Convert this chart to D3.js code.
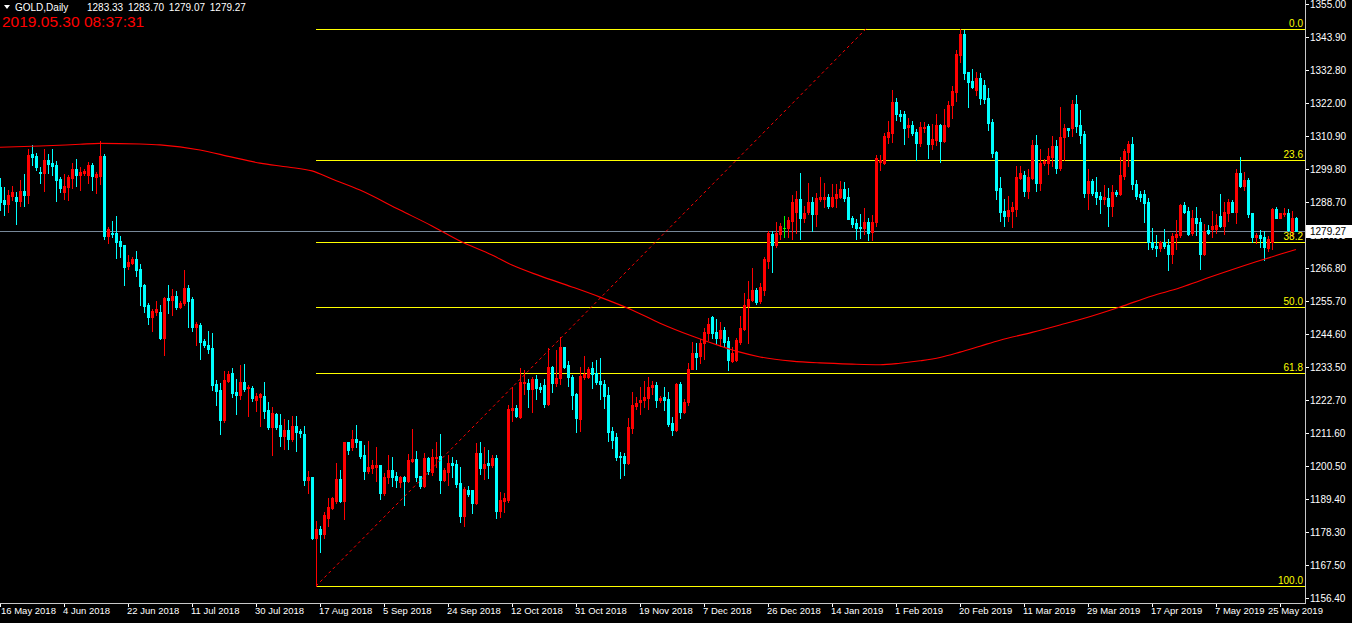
<!DOCTYPE html>
<html><head><meta charset="utf-8">
<script src="https://cdn.jsdelivr.net/npm/d3@7"></script>
<style>html,body{margin:0;padding:0;background:#000;overflow:hidden}</style>
</head><body>
<svg id="chart" width="1352" height="623"></svg>
<script>
const open = [1293.9,1289.5,1288.1,1290.9,1290.6,1289.2,1292.5,1291.1,1304.8,1304.2,1298.9,1298.6,1302.8,1301.9,1301.2,1296.5,1292.2,1293.9,1296.7,1299.7,1297.8,1298.4,1297.8,1301.2,1297.3,1297.5,1304.2,1277.4,1278.5,1278.5,1275.8,1274.4,1267.5,1268.3,1269.7,1266.4,1261.1,1254.4,1250.5,1251.9,1252.1,1243.4,1256.8,1256.0,1257.4,1253.8,1255.1,1260.1,1256.3,1246.9,1247.7,1242.4,1241.0,1240.1,1228.0,1226.0,1215.9,1229.1,1231.5,1225.4,1224.3,1228.7,1226.5,1226.5,1222.6,1223.7,1223.9,1219.3,1213.5,1217.8,1214.2,1210.6,1212.6,1209.5,1213.9,1212.3,1211.2,1195.9,1196.9,1176.4,1179.5,1177.8,1183.3,1186.6,1188.9,1196.2,1188.9,1208.5,1207.0,1209.6,1208.9,1204.2,1198.9,1200.0,1200.1,1200.9,1191.6,1196.8,1199.2,1197.2,1195.3,1196.8,1195.6,1202.2,1202.9,1197.2,1193.9,1203.3,1198.6,1203.1,1203.9,1195.9,1198.6,1201.6,1201.1,1194.8,1183.9,1192.5,1192.5,1188.1,1205.0,1200.0,1201.4,1200.9,1203.3,1185.5,1188.9,1189.2,1219.3,1219.8,1216.8,1228.2,1228.4,1226.3,1229.6,1227.0,1227.6,1221.3,1233.7,1228.4,1229.9,1240.2,1234.3,1230.4,1224.6,1216.2,1230.4,1230.4,1233.4,1231.5,1229.0,1227.9,1224.3,1212.2,1210.1,1204.0,1203.9,1201.4,1213.3,1220.7,1221.8,1222.6,1223.2,1226.8,1227.6,1222.6,1223.7,1222.9,1215.0,1212.6,1228.0,1218.5,1222.0,1233.0,1238.2,1237.3,1241.6,1244.9,1250.3,1245.4,1243.4,1246.0,1242.4,1235.7,1236.0,1242.1,1246.3,1254.1,1256.0,1259.4,1255.7,1259.4,1269.1,1278.1,1274.4,1278.1,1280.2,1280.0,1282.5,1285.6,1289.8,1283.6,1285.6,1288.9,1284.7,1289.7,1289.8,1290.6,1287.6,1290.2,1290.6,1293.1,1290.6,1283.3,1281.9,1280.3,1280.0,1282.1,1278.8,1282.1,1302.2,1301.9,1310.6,1312.0,1322.3,1318.2,1318.2,1313.8,1314.5,1312.1,1308.6,1313.6,1314.2,1308.2,1309.5,1314.5,1309.3,1314.2,1321.2,1325.7,1337.9,1345.0,1332.2,1329.3,1326.2,1330.3,1327.9,1323.5,1315.6,1305.6,1293.4,1285.8,1284.1,1285.9,1286.5,1296.7,1297.8,1292.6,1296.7,1307.9,1295.3,1301.7,1301.9,1303.9,1307.5,1300.1,1310.4,1313.6,1313.6,1321.6,1314.5,1311.5,1291.9,1295.8,1292.0,1290.8,1289.8,1290.2,1287.6,1292.2,1291.5,1297.6,1305.6,1308.2,1294.8,1291.5,1291.4,1288.9,1275.5,1274.2,1273.5,1275.5,1274.4,1271.4,1277.2,1277.8,1287.8,1285.8,1278.3,1283.3,1282.2,1271.3,1279.4,1279.7,1279.7,1284.1,1280.8,1285.2,1288.9,1285.6,1298.4,1294.1,1296.2,1285.0,1277.0,1277.8,1277.2,1273.3,1275.5,1286.4,1283.6,1284.8,1285.2,1279.1,1283.33];
const high = [1296.7,1293.9,1292.8,1294.2,1292.2,1296.2,1298.2,1306.4,1307.9,1305.1,1300.6,1306.5,1304.8,1306.5,1302.5,1297.3,1298.1,1297.8,1301.9,1303.1,1300.4,1299.7,1302.3,1301.7,1298.9,1309.2,1304.8,1280.3,1282.4,1284.1,1277.4,1274.4,1271.1,1270.5,1272.4,1268.0,1261.4,1254.9,1252.9,1255.7,1254.4,1257.1,1261.1,1259.7,1259.0,1255.7,1266.1,1261.1,1257.1,1248.8,1248.4,1243.0,1245.7,1244.9,1229.3,1228.4,1232.3,1232.3,1233.3,1229.5,1234.3,1234.6,1227.6,1227.3,1225.0,1224.8,1228.5,1222.0,1220.2,1218.2,1217.8,1216.2,1215.9,1217.3,1217.3,1212.9,1213.9,1198.9,1196.9,1182.2,1180.5,1185.2,1189.7,1190.1,1201.6,1199.2,1208.5,1208.5,1212.6,1214.2,1208.9,1207.6,1208.9,1202.5,1207.0,1200.9,1198.3,1204.2,1203.4,1198.6,1197.2,1197.2,1204.5,1212.9,1205.6,1197.2,1205.0,1203.7,1206.2,1208.5,1211.2,1199.8,1204.2,1203.6,1202.5,1200.3,1193.6,1193.8,1192.5,1208.1,1208.5,1207.0,1205.9,1204.2,1204.2,1191.9,1191.4,1220.9,1226.8,1220.9,1233.4,1232.6,1229.5,1230.4,1231.0,1228.2,1229.5,1239.9,1234.0,1239.3,1243.6,1240.4,1235.6,1231.0,1224.8,1233.7,1237.3,1233.7,1235.4,1236.0,1236.5,1229.3,1226.8,1213.7,1211.5,1205.1,1205.0,1216.7,1225.4,1223.7,1227.0,1229.1,1230.4,1229.0,1228.7,1224.0,1227.0,1225.2,1217.0,1228.2,1228.7,1222.8,1234.9,1242.1,1241.6,1243.0,1246.8,1249.9,1250.7,1249.7,1248.8,1247.1,1243.6,1240.4,1243.2,1250.7,1258.3,1262.4,1266.6,1260.1,1261.7,1270.5,1279.1,1279.1,1282.2,1281.7,1284.1,1283.9,1291.1,1292.5,1298.4,1287.6,1295.1,1290.4,1291.7,1297.3,1295.1,1291.4,1294.7,1294.7,1295.8,1295.4,1293.4,1284.1,1283.0,1284.8,1286.7,1283.4,1284.4,1304.5,1304.5,1312.0,1316.0,1326.2,1323.7,1319.6,1319.2,1317.0,1315.9,1313.2,1315.4,1315.4,1314.9,1314.8,1318.1,1314.8,1319.9,1322.6,1327.6,1339.6,1346.7,1346.3,1332.4,1333.2,1332.3,1331.9,1329.6,1326.9,1316.5,1306.0,1297.1,1289.7,1290.9,1288.9,1300.8,1300.8,1299.2,1299.8,1309.5,1311.2,1306.4,1303.2,1306.8,1310.9,1309.5,1320.5,1314.9,1313.6,1322.9,1324.6,1319.6,1312.5,1299.7,1296.4,1297.1,1292.0,1294.5,1293.6,1294.5,1292.8,1303.9,1306.4,1309.2,1310.6,1296.2,1292.6,1292.8,1290.0,1280.0,1277.8,1275.8,1279.8,1276.3,1278.5,1282.8,1288.1,1288.9,1287.0,1286.1,1287.2,1283.3,1281.3,1281.1,1285.8,1284.7,1291.5,1288.9,1289.7,1289.5,1299.8,1303.7,1298.9,1296.7,1285.0,1278.5,1279.4,1279.2,1277.4,1286.7,1287.0,1285.2,1286.7,1286.4,1285.8,1283.70];
const low = [1286.1,1284.5,1285.6,1289.5,1281.4,1287.5,1287.5,1288.6,1301.2,1299.5,1295.3,1292.5,1298.4,1297.8,1289.1,1292.2,1289.8,1289.5,1293.6,1294.2,1292.8,1297.8,1295.1,1292.8,1291.7,1294.8,1276.5,1275.2,1277.2,1270.2,1270.5,1261.1,1266.4,1268.1,1264.2,1254.4,1252.1,1248.0,1245.8,1251.0,1243.0,1237.6,1251.8,1251.0,1252.9,1253.4,1254.4,1247.1,1245.8,1241.0,1236.3,1240.4,1238.4,1226.0,1220.9,1211.2,1215.4,1228.5,1223.7,1217.9,1222.9,1225.6,1217.3,1222.4,1218.9,1213.9,1216.5,1212.9,1204.2,1212.8,1207.2,1206.1,1206.2,1208.9,1205.6,1210.3,1194.2,1191.4,1176.0,1160.4,1171.9,1176.4,1180.5,1186.1,1188.1,1188.6,1182.8,1204.4,1205.9,1207.0,1203.1,1196.2,1198.1,1198.3,1195.6,1189.5,1190.8,1194.8,1193.9,1193.6,1193.6,1187.5,1195.3,1201.9,1195.6,1193.1,1193.6,1197.9,1197.5,1200.3,1191.6,1195.5,1194.2,1197.0,1193.6,1181.9,1180.6,1190.6,1184.7,1187.8,1197.9,1196.1,1196.6,1200.1,1183.0,1183.4,1185.3,1188.6,1215.7,1216.8,1216.5,1224.6,1220.4,1218.7,1222.9,1225.4,1220.2,1220.9,1225.4,1227.3,1227.9,1233.2,1227.3,1219.6,1212.0,1212.2,1229.5,1229.8,1226.7,1227.8,1222.9,1220.0,1209.0,1206.6,1202.5,1196.4,1197.5,1201.1,1211.5,1219.6,1217.9,1220.2,1219.6,1224.6,1220.4,1222.0,1219.3,1214.0,1210.9,1212.3,1216.7,1218.2,1221.0,1232.9,1233.0,1234.9,1236.3,1242.7,1243.2,1241.3,1240.8,1240.2,1232.6,1235.4,1235.6,1241.3,1246.0,1241.6,1255.7,1254.8,1255.0,1257.7,1266.7,1265.4,1273.6,1276.4,1277.2,1277.0,1276.4,1278.5,1276.4,1282.2,1284.8,1279.2,1280.8,1289.2,1287.0,1286.9,1287.2,1287.2,1290.2,1289.2,1283.0,1280.5,1276.4,1276.9,1278.1,1276.1,1276.1,1280.8,1299.5,1301.5,1308.6,1309.0,1316.2,1316.0,1308.2,1310.6,1311.2,1302.8,1307.6,1312.3,1303.6,1306.4,1307.9,1302.3,1309.0,1314.0,1317.0,1322.7,1335.7,1329.9,1320.7,1326.8,1324.6,1321.6,1321.8,1312.9,1303.9,1289.8,1282.4,1280.8,1282.5,1280.5,1284.1,1296.4,1290.8,1290.2,1296.4,1292.6,1292.8,1301.2,1298.1,1300.8,1298.6,1299.5,1302.8,1310.9,1311.0,1312.3,1308.6,1290.6,1286.5,1291.1,1288.1,1285.2,1288.1,1280.8,1284.2,1290.9,1291.1,1296.5,1300.9,1293.1,1289.7,1289.2,1282.2,1273.1,1273.0,1270.8,1272.5,1273.5,1266.1,1268.3,1273.1,1277.2,1285.0,1277.7,1277.8,1277.8,1266.3,1271.1,1278.1,1277.0,1278.3,1280.5,1278.1,1282.5,1285.6,1281.9,1293.7,1292.8,1283.9,1275.5,1275.2,1273.7,1269.4,1272.5,1273.0,1283.6,1283.3,1284.1,1279.1,1277.4,1279.07];
const close = [1288.9,1288.1,1291.1,1292.2,1289.2,1292.5,1291.1,1304.5,1304.0,1300.6,1298.6,1302.8,1301.5,1300.8,1296.2,1293.6,1294.2,1297.3,1299.7,1297.8,1298.9,1299.3,1301.2,1297.5,1298.2,1304.2,1277.5,1279.8,1278.0,1275.4,1274.2,1267.2,1268.8,1269.7,1266.1,1260.8,1254.0,1250.5,1252.4,1253.0,1243.4,1256.8,1256.0,1257.4,1253.8,1255.1,1260.1,1255.7,1247.1,1247.9,1242.1,1241.0,1239.7,1227.6,1225.6,1215.9,1229.3,1231.3,1225.0,1224.3,1228.7,1226.3,1227.0,1223.4,1223.9,1224.5,1218.9,1213.5,1218.2,1213.5,1210.6,1212.6,1209.5,1213.9,1211.8,1211.5,1195.9,1197.0,1176.4,1179.4,1177.8,1184.2,1186.7,1189.7,1196.1,1188.9,1208.5,1205.9,1209.6,1208.7,1203.9,1198.9,1200.1,1200.9,1200.9,1191.6,1197.0,1199.2,1197.0,1195.9,1196.8,1195.6,1202.5,1202.9,1197.0,1193.9,1203.3,1198.9,1203.4,1203.6,1195.9,1199.2,1201.4,1200.9,1194.5,1183.9,1192.8,1191.2,1188.3,1204.8,1200.0,1201.2,1200.9,1203.3,1185.5,1189.2,1189.7,1219.6,1219.8,1217.3,1228.5,1228.5,1226.3,1229.6,1226.7,1226.3,1221.3,1233.7,1228.4,1229.9,1240.2,1233.7,1230.2,1224.3,1216.5,1230.6,1231.3,1233.0,1231.2,1228.7,1227.8,1224.0,1212.0,1209.2,1203.6,1203.5,1201.6,1213.7,1220.9,1221.7,1222.6,1223.7,1227.0,1227.6,1222.6,1223.2,1222.6,1214.5,1212.6,1228.0,1218.5,1222.0,1233.0,1238.4,1237.1,1241.6,1245.4,1248.0,1245.1,1243.4,1246.0,1242.1,1236.0,1238.4,1242.7,1246.6,1254.4,1256.3,1259.4,1255.5,1260.4,1269.7,1278.5,1274.4,1278.5,1280.8,1280.2,1282.8,1288.9,1289.8,1283.6,1285.2,1288.9,1284.8,1290.2,1290.6,1290.6,1287.5,1290.6,1291.4,1293.0,1290.2,1283.1,1281.3,1280.0,1280.0,1282.2,1278.4,1282.1,1303.4,1302.8,1310.9,1312.3,1322.3,1318.1,1317.6,1313.6,1314.5,1311.8,1308.6,1313.8,1314.0,1308.2,1309.8,1314.5,1309.3,1314.5,1321.2,1325.9,1338.3,1345.0,1332.0,1329.0,1327.2,1330.3,1323.5,1323.1,1315.3,1305.3,1292.8,1285.6,1284.1,1286.1,1287.0,1297.1,1298.4,1292.6,1297.1,1307.9,1295.3,1301.9,1302.5,1304.2,1307.5,1300.3,1310.4,1313.6,1312.9,1321.6,1314.2,1311.2,1291.9,1295.8,1291.9,1290.6,1289.8,1290.6,1287.6,1292.2,1291.4,1297.8,1305.9,1308.2,1294.7,1290.9,1290.6,1288.6,1275.3,1273.9,1273.5,1275.5,1274.1,1271.4,1277.4,1278.1,1287.8,1285.6,1278.1,1283.3,1281.9,1271.3,1279.1,1278.5,1280.8,1281.1,1280.8,1285.6,1288.9,1285.6,1298.4,1294.1,1296.2,1284.7,1277.0,1277.8,1276.7,1273.7,1276.3,1286.4,1283.6,1285.0,1285.2,1279.4,1283.6,1279.27];

const maBars = [0,10,20,25,35,40,50,58,65,72,78,83,90,100,108,115,123,128,135,143,150,158,165,173,180,185,190,198,205,213,220,225,230,235,240,245,250,258,265,273,280,288,295,300,307,314,320,324];
const maValues = [1307.1,1307.5,1308.1,1308.4,1308.2,1307.9,1306.2,1303.8,1301.8,1300.5,1299.2,1296.5,1292.8,1286.1,1280.8,1275.8,1271.1,1267.7,1264.1,1260.4,1257.0,1252.7,1248.3,1244.0,1240.7,1238.6,1237.0,1235.6,1235.0,1234.6,1234.4,1234.9,1235.7,1236.8,1238.6,1240.6,1242.6,1245.2,1247.7,1250.7,1253.7,1257.4,1260.1,1262.5,1265.7,1268.8,1271.3,1272.9];

const dateTickBars = [0,16,32,48,64,80,96,112,128,144,160,176,192,208,224,240,256,272,288,304,320];
const dateTickLabels = ["16 May 2018","4 Jun 2018","22 Jun 2018","11 Jul 2018","30 Jul 2018","17 Aug 2018","5 Sep 2018","24 Sep 2018","12 Oct 2018","31 Oct 2018","19 Nov 2018","7 Dec 2018","26 Dec 2018","14 Jan 2019","1 Feb 2019","20 Feb 2019","11 Mar 2019","29 Mar 2019","17 Apr 2019","7 May 2019","25 May 2019"];
const priceTicks = [1355.00,1343.90,1332.80,1322.00,1310.90,1299.80,1288.70,1277.60,1266.80,1255.70,1244.60,1233.50,1222.70,1211.60,1200.50,1189.40,1178.30,1167.50,1156.40];

const fibLevels = [0, 23.6, 38.2, 50.0, 61.8, 100.0];
const fibLevelLabels = ["0.0","23.6","38.2","50.0","61.8","100.0"];
const fibStartBar = 79, fibEndBar = 216.5;
const fibLowPrice = 1160.4, fibHighPrice = 1346.7;

const symbolTitle = "GOLD,Daily";
const headerOHLC = [1283.33, 1283.70, 1279.07, 1279.27];
const timestamp = "2019.05.30 08:37:31";
const lastPrice = 1279.27;

const W = 1352, H = 623;
const plotRight = 1305, plotBottom = 603;
const FONT = "'Liberation Sans', Arial, sans-serif";
const UP = "#ff0000", DOWN = "#00ffff", DOJI = "#00ff00";

const svg = d3.select("#chart");
svg.append("rect").attr("width", W).attr("height", H).attr("fill", "#000");

const x = d3.scaleLinear().domain([0, 324]).range([0, 1296]);
const y = d3.scaleLinear().domain([1156.4, 1355]).range([598, 4]);

const plot = svg.append("g").attr("shape-rendering", "crispEdges");

// moving average
const maData = maBars.map((b, i) => ({b, v: maValues[i]}));
svg.append("path")
  .datum(maData)
  .attr("fill", "none")
  .attr("stroke", "#ff0000")
  .attr("stroke-width", 1.1)
  .attr("d", d3.line().x(d => x(d.b)).y(d => y(d.v)).curve(d3.curveMonotoneX));

// fibonacci levels
const fibPrice = l => fibHighPrice - (fibHighPrice - fibLowPrice) * l / 100;
plot.selectAll(".fib").data(fibLevels).join("line")
  .attr("x1", x(fibStartBar)).attr("x2", plotRight)
  .attr("y1", d => Math.round(y(fibPrice(d))) + 0.5)
  .attr("y2", d => Math.round(y(fibPrice(d))) + 0.5)
  .attr("stroke", "#ffff00").attr("stroke-width", 1);

// diagonal trend line of fib
svg.append("line")
  .attr("x1", x(fibStartBar)).attr("y1", y(fibLowPrice))
  .attr("x2", x(fibEndBar)).attr("y2", y(fibHighPrice))
  .attr("stroke", "#ff0000").attr("stroke-width", 1)
  .attr("stroke-dasharray", "3,3");

// bid line
plot.append("line")
  .attr("x1", 0).attr("x2", plotRight)
  .attr("y1", Math.round(y(lastPrice)) + 0.5).attr("y2", Math.round(y(lastPrice)) + 0.5)
  .attr("stroke", "#778899").attr("stroke-width", 1);

// candles
const bars = open.map((o, i) => ({i, o, h: high[i], l: low[i], c: close[i]}));
const col = d => d.c > d.o ? UP : (d.c < d.o ? DOWN : DOJI);
const cg = plot.append("g");
cg.selectAll(".wick").data(bars).join("rect")
  .attr("x", d => Math.round(x(d.i)))
  .attr("y", d => Math.round(y(d.h)))
  .attr("width", 1)
  .attr("height", d => Math.max(1, Math.round(y(d.l)) - Math.round(y(d.h)) + 1))
  .attr("fill", col);
cg.selectAll(".body").data(bars).join("rect")
  .attr("x", d => Math.round(x(d.i)) - 1)
  .attr("y", d => Math.round(y(Math.max(d.o, d.c))))
  .attr("width", 3)
  .attr("height", d => Math.max(1, Math.round(y(Math.min(d.o, d.c))) - Math.round(y(Math.max(d.o, d.c))) + 1))
  .attr("fill", col);

// fib labels
svg.selectAll(".fibl").data(fibLevels).join("text")
  .attr("x", plotRight - 2)
  .attr("y", d => Math.round(y(fibPrice(d))) - 2)
  .attr("text-anchor", "end")
  .attr("fill", "#ffff00")
  .attr("font-family", FONT).attr("font-size", 10)
  .text((d, i) => fibLevelLabels[i]);

// axes frame
plot.append("line").attr("x1", plotRight + 0.5).attr("x2", plotRight + 0.5).attr("y1", 0).attr("y2", plotBottom + 1).attr("stroke", "#c8c8c8");
plot.append("line").attr("x1", 0).attr("x2", plotRight + 1).attr("y1", plotBottom + 0.5).attr("y2", plotBottom + 0.5).attr("stroke", "#c8c8c8");

// price axis
const ya = svg.append("g");
ya.selectAll("line").data(priceTicks).join("line")
  .attr("x1", plotRight + 1).attr("x2", plotRight + 4)
  .attr("y1", d => Math.round(y(d)) + 0.5).attr("y2", d => Math.round(y(d)) + 0.5)
  .attr("stroke", "#fff").attr("shape-rendering", "crispEdges");
ya.selectAll("text").data(priceTicks).join("text")
  .attr("x", plotRight + 5)
  .attr("y", d => y(d) + 4)
  .attr("fill", "#fff")
  .attr("font-family", FONT).attr("font-size", 10)
  .text(d => d3.format(".2f")(d));

// bid price label (drawn over the axis text, as in the terminal)
const by = Math.round(y(lastPrice));
svg.append("rect").attr("x", plotRight + 1).attr("y", by - 6).attr("width", W - plotRight - 1).attr("height", 13).attr("fill", "#fff");
svg.append("text").attr("x", plotRight + 5).attr("y", by + 4)
  .attr("fill", "#000").attr("font-family", FONT).attr("font-size", 10)
  .text(d3.format(".2f")(lastPrice));

// date axis
const xa = svg.append("g");
xa.selectAll("line").data(dateTickBars).join("line")
  .attr("x1", d => Math.round(x(d)) + 0.5).attr("x2", d => Math.round(x(d)) + 0.5)
  .attr("y1", plotBottom + 1).attr("y2", plotBottom + 4)
  .attr("stroke", "#fff").attr("shape-rendering", "crispEdges");
xa.selectAll("text").data(dateTickBars).join("text")
  .attr("x", (d, i) => Math.max(1, Math.min(x(d) - 1, 1268)))
  .attr("y", 614)
  .attr("fill", "#fff")
  .attr("font-family", FONT).attr("font-size", 9.5)
  .text((d, i) => dateTickLabels[i]);

// header
svg.append("path").attr("d", "M4,5 L10,5 L7,9 Z").attr("fill", "#fff");
svg.append("text").attr("x", 15).attr("y", 11)
  .attr("fill", "#fff").attr("font-family", FONT).attr("font-size", 10)
  .text(symbolTitle);
svg.append("text").attr("x", 87).attr("y", 11)
  .attr("fill", "#fff").attr("font-family", FONT).attr("font-size", 10)
  .attr("word-spacing", 2)
  .text(headerOHLC.map(d3.format(".2f")).join(" "));
svg.append("text").attr("x", 2).attr("y", 27)
  .attr("fill", "#ff0000").attr("font-family", FONT).attr("font-size", 15.5)
  .text(timestamp);
</script>
</body></html>
